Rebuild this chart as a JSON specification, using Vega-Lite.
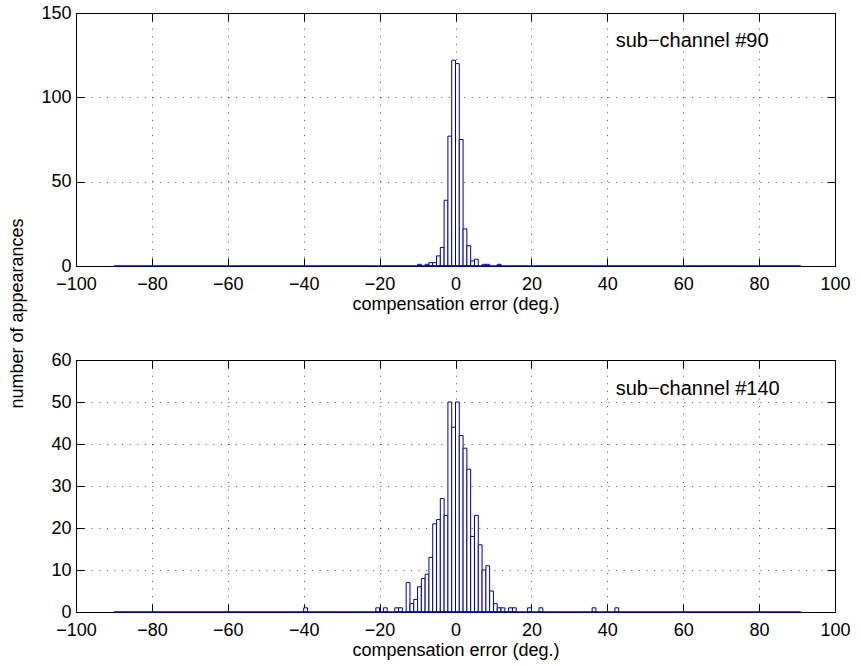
{
  "$schema": "https://vega.github.io/schema/vega-lite/v6.json",
  "background": "white",
  "padding": {"left": 8, "top": 4, "right": 10, "bottom": 4},
  "bounds": "flush",
  "spacing": 94,
  "datasets": {
    "ch90": [
      {"x0": -10, "x1": -9, "n": 1},
      {"x0": -8, "x1": -7, "n": 1},
      {"x0": -7, "x1": -6, "n": 2},
      {"x0": -6, "x1": -5, "n": 2},
      {"x0": -5, "x1": -4, "n": 6},
      {"x0": -4, "x1": -3, "n": 11},
      {"x0": -3, "x1": -2, "n": 39},
      {"x0": -2, "x1": -1, "n": 77},
      {"x0": -1, "x1": 0, "n": 122},
      {"x0": 0, "x1": 1, "n": 120},
      {"x0": 1, "x1": 2, "n": 75},
      {"x0": 2, "x1": 3, "n": 22},
      {"x0": 3, "x1": 4, "n": 12},
      {"x0": 4, "x1": 5, "n": 3},
      {"x0": 5, "x1": 6, "n": 4},
      {"x0": 7, "x1": 8, "n": 1},
      {"x0": 8, "x1": 9, "n": 1},
      {"x0": 11, "x1": 12, "n": 1}
    ],
    "ch140": [
      {"x0": -40, "x1": -39, "n": 1},
      {"x0": -21, "x1": -20, "n": 1},
      {"x0": -19, "x1": -18, "n": 1},
      {"x0": -16, "x1": -15, "n": 1},
      {"x0": -15, "x1": -14, "n": 1},
      {"x0": -13, "x1": -12, "n": 7},
      {"x0": -12, "x1": -11, "n": 2},
      {"x0": -11, "x1": -10, "n": 3},
      {"x0": -10, "x1": -9, "n": 6},
      {"x0": -9, "x1": -8, "n": 8},
      {"x0": -8, "x1": -7, "n": 9},
      {"x0": -7, "x1": -6, "n": 13},
      {"x0": -6, "x1": -5, "n": 21},
      {"x0": -5, "x1": -4, "n": 22},
      {"x0": -4, "x1": -3, "n": 27},
      {"x0": -3, "x1": -2, "n": 23},
      {"x0": -2, "x1": -1, "n": 50},
      {"x0": -1, "x1": 0, "n": 44},
      {"x0": 0, "x1": 1, "n": 50},
      {"x0": 1, "x1": 2, "n": 42},
      {"x0": 2, "x1": 3, "n": 39},
      {"x0": 3, "x1": 4, "n": 34},
      {"x0": 4, "x1": 5, "n": 18},
      {"x0": 5, "x1": 6, "n": 23},
      {"x0": 6, "x1": 7, "n": 16},
      {"x0": 7, "x1": 8, "n": 10},
      {"x0": 8, "x1": 9, "n": 11},
      {"x0": 9, "x1": 10, "n": 5},
      {"x0": 10, "x1": 11, "n": 2},
      {"x0": 11, "x1": 12, "n": 1},
      {"x0": 12, "x1": 13, "n": 1},
      {"x0": 14, "x1": 15, "n": 1},
      {"x0": 15, "x1": 16, "n": 1},
      {"x0": 19, "x1": 20, "n": 1},
      {"x0": 22, "x1": 23, "n": 1},
      {"x0": 36, "x1": 37, "n": 1},
      {"x0": 42, "x1": 43, "n": 1}
    ]
  },
  "config": {
    "font": "Liberation Sans",
    "view": {"stroke": null},
    "axis": {
      "labelFont": "Liberation Sans",
      "labelFontSize": 18,
      "labelColor": "black",
      "titleFont": "Liberation Sans",
      "titleFontSize": 18,
      "titleFontWeight": "normal",
      "titleColor": "black",
      "tickColor": "black",
      "tickSize": 8,
      "tickWidth": 1,
      "domain": true,
      "domainColor": "black",
      "domainWidth": 1,
      "gridColor": "black",
      "gridOpacity": 0.7,
      "gridDash": [1, 6.6],
      "labelFlush": false,
      "labelOverlap": false
    }
  },
  "vconcat": [
    {
      "width": 759,
      "height": 253,
      "resolve": {"axis": {"x": "independent", "y": "independent"}},
      "layer": [
        {
          "data": {"name": "ch90"},
          "mark": {"type": "bar", "fill": "white", "stroke": "#0000a0", "strokeWidth": 1},
          "encoding": {
            "x": {"field": "x0", "type": "quantitative",
              "scale": {"domain": [-100, 100], "nice": false, "zero": false},
              "axis": {"orient": "bottom", "values": [-100, -80, -60, -40, -20, 0, 20, 40, 60, 80, 100], "grid": true, "ticks": false, "labelPadding": 9, "title": "compensation error (deg.)", "titlePadding": 2}},
            "x2": {"field": "x1"},
            "y": {"field": "n", "type": "quantitative",
              "scale": {"domain": [0, 150], "nice": false},
              "axis": {"orient": "left", "values": [0, 50, 100, 150], "grid": true, "ticks": false, "labelPadding": 5, "title": "number of appearances", "titleAngle": -90, "titleX": -59, "titleY": 300, "titleBaseline": "middle", "titleAlign": "center"}},
            "y2": {"datum": 0}
          }
        },
        {
          "data": {"values": [{}]},
          "mark": {"type": "rule", "stroke": "#0000a0", "strokeWidth": 1.5},
          "encoding": {
            "x": {"datum": -90, "type": "quantitative", "axis": {"orient": "top", "offset": -253, "values": [-100, -80, -60, -40, -20, 0, 20, 40, 60, 80, 100], "labels": false, "grid": false, "title": null}},
            "x2": {"datum": 91},
            "y": {"datum": 0, "type": "quantitative", "axis": {"orient": "right", "offset": -759, "values": [0, 50, 100, 150], "labels": false, "grid": false, "title": null}}
          }
        },
        {
          "data": {"values": [{}]},
          "mark": {"type": "text", "text": "sub−channel #90", "align": "left", "baseline": "middle", "fontSize": 20, "font": "Liberation Sans", "color": "black"},
          "encoding": {
            "x": {"datum": 42.2, "type": "quantitative", "axis": {"orient": "bottom", "offset": -253, "values": [-100, -80, -60, -40, -20, 0, 20, 40, 60, 80, 100], "labels": false, "grid": false, "title": null}},
            "y": {"datum": 133.5, "type": "quantitative", "axis": {"orient": "left", "offset": -759, "values": [0, 50, 100, 150], "labels": false, "grid": false, "title": null}}
          }
        }
      ]
    },
    {
      "width": 759,
      "height": 252,
      "resolve": {"axis": {"x": "independent", "y": "independent"}},
      "layer": [
        {
          "data": {"name": "ch140"},
          "mark": {"type": "bar", "fill": "white", "stroke": "#0000a0", "strokeWidth": 1},
          "encoding": {
            "x": {"field": "x0", "type": "quantitative",
              "scale": {"domain": [-100, 100], "nice": false, "zero": false},
              "axis": {"orient": "bottom", "values": [-100, -80, -60, -40, -20, 0, 20, 40, 60, 80, 100], "grid": true, "ticks": false, "labelPadding": 9, "title": "compensation error (deg.)", "titlePadding": 2}},
            "x2": {"field": "x1"},
            "y": {"field": "n", "type": "quantitative",
              "scale": {"domain": [0, 60], "nice": false},
              "axis": {"orient": "left", "values": [0, 10, 20, 30, 40, 50, 60], "grid": true, "ticks": false, "labelPadding": 5, "title": null}},
            "y2": {"datum": 0}
          }
        },
        {
          "data": {"values": [{}]},
          "mark": {"type": "rule", "stroke": "#0000a0", "strokeWidth": 1.5},
          "encoding": {
            "x": {"datum": -90, "type": "quantitative", "axis": {"orient": "top", "offset": -252, "values": [-100, -80, -60, -40, -20, 0, 20, 40, 60, 80, 100], "labels": false, "grid": false, "title": null}},
            "x2": {"datum": 91},
            "y": {"datum": 0, "type": "quantitative", "axis": {"orient": "right", "offset": -759, "values": [0, 10, 20, 30, 40, 50, 60], "labels": false, "grid": false, "title": null}}
          }
        },
        {
          "data": {"values": [{}]},
          "mark": {"type": "text", "text": "sub−channel #140", "align": "left", "baseline": "middle", "fontSize": 20, "font": "Liberation Sans", "color": "black"},
          "encoding": {
            "x": {"datum": 42.2, "type": "quantitative", "axis": {"orient": "bottom", "offset": -252, "values": [-100, -80, -60, -40, -20, 0, 20, 40, 60, 80, 100], "labels": false, "grid": false, "title": null}},
            "y": {"datum": 53.2, "type": "quantitative", "axis": {"orient": "left", "offset": -759, "values": [0, 10, 20, 30, 40, 50, 60], "labels": false, "grid": false, "title": null}}
          }
        }
      ]
    }
  ]
}
